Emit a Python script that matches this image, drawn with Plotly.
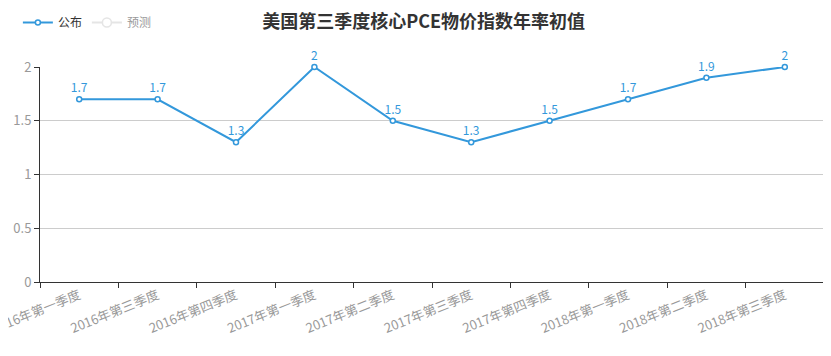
import plotly.graph_objects as go

categories = ["2016年第一季度", "2016年第三季度", "2016年第四季度", "2017年第一季度", "2017年第二季度",
              "2017年第三季度", "2017年第四季度", "2018年第一季度", "2018年第二季度", "2018年第三季度"]
published = [1.7, 1.7, 1.3, 2, 1.5, 1.3, 1.5, 1.7, 1.9, 2]
forecast = [None] * len(categories)

blue = "#3398DB"
font = "Microsoft YaHei, Noto Sans CJK SC, sans-serif"

fig = go.Figure()
fig.add_trace(go.Scatter(
    x=categories, y=published, name="公布", mode="lines+markers+text",
    line=dict(color=blue, width=2),
    marker=dict(symbol="circle", size=5, color="white", line=dict(color=blue, width=1.5)),
    text=[str(v) for v in published], textposition="top center",
    textfont=dict(color=blue, size=12, family=font),
    cliponaxis=False,
))
fig.add_trace(go.Scatter(
    x=categories, y=forecast, name="预测", mode="lines+markers",
    line=dict(color="#cccccc", width=2),
    marker=dict(symbol="circle", size=9, color="white", line=dict(color="#cccccc", width=1.5)),
    visible="legendonly",
))

# the page body has an 8px margin, so the figure is sized/offset to compensate
fig.update_layout(
    width=823, height=348,
    margin=dict(l=32, r=7, t=59, b=74),
    paper_bgcolor="white", plot_bgcolor="white",
    font=dict(family=font, size=12, color="#333"),
    title=dict(text="<b>美国第三季度核心PCE物价指数年率初值</b>", x=0.505, xanchor="center",
               y=0.96, yanchor="middle", font=dict(size=18, color="#333", family=font)),
    legend=dict(orientation="h", xref="container", x=0.012, y=1.0, yref="container", yanchor="top",
                font=dict(size=12, color="#333"), itemwidth=30),
    showlegend=True,
    xaxis=dict(type="category", range=[-0.5, 9.5], tickson="boundaries", ticks="outside",
               ticklen=5, tickcolor="#333", showline=True, linecolor="#333", linewidth=1,
               showgrid=False, tickangle=-22, tickfont=dict(color="#999", size=13), zeroline=False,
               automargin=False),
    yaxis=dict(range=[0, 2], dtick=0.5, ticks="outside", ticklen=5, tickcolor="#333",
               showline=True, linecolor="#333", linewidth=1, showgrid=True, gridcolor="#ccc",
               tickfont=dict(color="#999", size=13), zeroline=False, automargin=False),
)

fig.write_html("out.html")
